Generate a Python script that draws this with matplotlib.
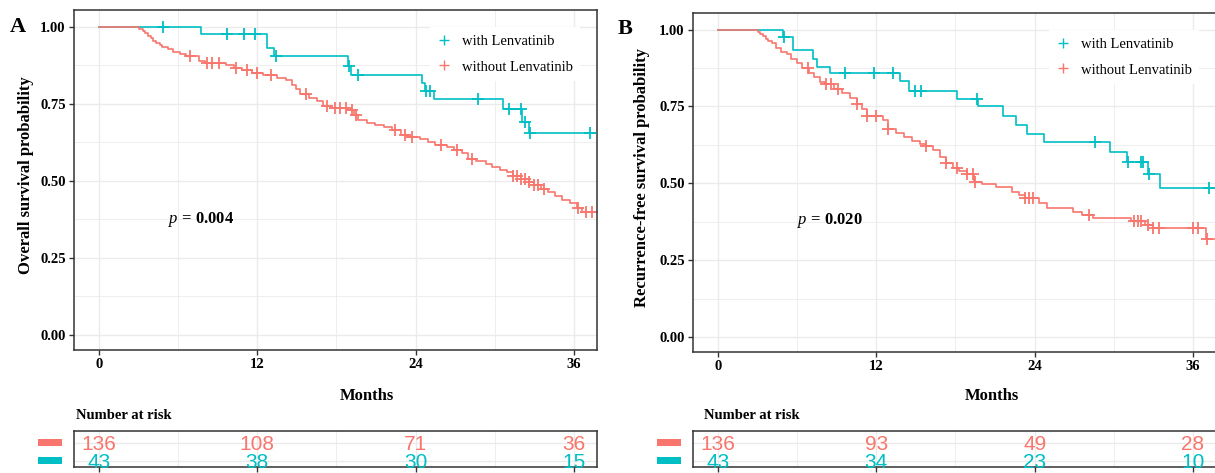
"""Kaplan-Meier OS / RFS panels, with vs without Lenvatinib, plus number-at-risk tables."""

import matplotlib

matplotlib.use("Agg")

import matplotlib.pyplot as plt
import matplotlib.transforms as mtransforms
import numpy as np
from matplotlib.lines import Line2D
from matplotlib.patches import Rectangle

RED = "#F8766D"
CYAN = "#00BFC4"
FRAME = "#333333"
GRID = "#EBEBEB"
SERIF = "Liberation Serif"
SANS = "Liberation Sans"

W, H = 1215, 473

# ---- panel A: overall survival ----
OS_WITH_T = [7.7, 12.7, 13.3, 18.9, 19.1, 24.5, 24.7, 25.4, 30.6, 32.1, 32.6]
OS_WITH_S = [0.977, 0.930, 0.904, 0.871, 0.844, 0.817, 0.792, 0.765, 0.733, 0.692, 0.654]
OS_WITH_CENS = [4.85, 9.7, 11.0, 11.8, 13.4, 18.95, 19.6, 24.8, 25.1, 28.7, 31.1, 32.0, 32.3, 32.7, 37.2]
OS_WITH_END = 37.6

OS_WITHOUT_T = [3.06, 3.3, 3.5, 3.7, 3.9, 4.1, 4.3, 4.6, 4.8, 5.2, 5.6, 6.1, 6.6, 7.6, 8.0,
                9.6, 10.2, 10.8, 11.6, 12.4, 13.5, 14.2, 14.6, 14.9, 15.2, 15.9, 16.5, 17.0,
                17.6, 18.9, 19.3, 19.6, 20.3, 20.9, 21.6, 22.2, 22.9, 23.4, 24.3, 24.9, 25.5,
                26.4, 26.9, 27.5, 28.0, 28.6, 29.3, 29.8, 30.4, 30.9, 31.4, 32.0, 32.6, 33.0,
                33.5, 34.0, 34.6, 35.1, 35.7, 36.2, 36.6]
OS_WITHOUT_S = [0.993, 0.985, 0.978, 0.970, 0.963, 0.955, 0.948, 0.940, 0.933, 0.926, 0.918,
                0.911, 0.904, 0.889, 0.882, 0.874, 0.866, 0.859, 0.851, 0.843, 0.835, 0.827,
                0.812, 0.797, 0.782, 0.767, 0.759, 0.744, 0.736, 0.728, 0.712, 0.697, 0.689,
                0.681, 0.673, 0.665, 0.650, 0.642, 0.634, 0.625, 0.617, 0.608, 0.599, 0.590,
                0.572, 0.563, 0.554, 0.545, 0.536, 0.527, 0.517, 0.507, 0.496, 0.485, 0.474,
                0.463, 0.451, 0.439, 0.427, 0.412, 0.398]
OS_WITHOUT_CENS = [6.9, 8.2, 8.6, 9.1, 10.4, 11.2, 12.0, 13.0, 15.7, 17.3, 17.9, 18.3, 18.7,
                   19.2, 19.5, 22.4, 23.2, 23.7, 25.9, 27.1, 28.3, 31.4, 31.7, 32.0, 32.3,
                   32.6, 33.0, 33.3, 33.7, 36.3, 36.9, 37.4]
OS_WITHOUT_END = 37.5

OS_RISK_WITHOUT = [136, 108, 71, 36]
OS_RISK_WITH = [43, 38, 30, 15]

# ---- panel B: recurrence-free survival ----
RFS_WITH_T = [4.95, 5.7, 7.2, 7.5, 8.5, 13.8, 14.5, 18.1, 19.7, 21.6, 22.6, 23.4, 24.7, 29.7,
              31.0, 32.6, 33.5]
RFS_WITH_S = [0.975, 0.932, 0.905, 0.877, 0.858, 0.834, 0.800, 0.775, 0.750, 0.720, 0.688,
              0.661, 0.634, 0.602, 0.569, 0.531, 0.483]
RFS_WITH_CENS = [5.0, 9.6, 11.8, 13.3, 14.9, 15.4, 19.6, 28.6, 31.1, 32.05, 32.25, 32.7, 37.2]
RFS_WITH_END = 37.8

RFS_WITHOUT_T = [3.0, 3.2, 3.4, 3.6, 3.8, 4.1, 4.4, 4.8, 5.2, 5.5, 6.0, 6.4, 6.9, 7.3, 7.7,
                 8.1, 8.8, 9.4, 10.0, 10.5, 10.9, 11.3, 12.5, 12.9, 13.5, 14.1, 14.7, 15.3,
                 15.8, 16.3, 16.8, 17.3, 17.8, 18.3, 18.9, 19.4, 20.0, 21.1, 22.3, 22.8, 23.3,
                 24.3, 24.9, 26.9, 27.6, 28.4, 31.3, 32.4, 33.0, 37.0]
RFS_WITHOUT_S = [0.993, 0.985, 0.978, 0.971, 0.963, 0.956, 0.941, 0.926, 0.919, 0.904, 0.890,
                 0.875, 0.860, 0.846, 0.831, 0.823, 0.808, 0.793, 0.778, 0.757, 0.742, 0.720,
                 0.707, 0.678, 0.664, 0.650, 0.636, 0.628, 0.621, 0.607, 0.586, 0.565, 0.550,
                 0.540, 0.530, 0.504, 0.497, 0.488, 0.472, 0.461, 0.452, 0.435, 0.419, 0.407,
                 0.396, 0.386, 0.376, 0.365, 0.353, 0.320]
RFS_WITHOUT_CENS = [6.85, 8.2, 8.6, 9.1, 10.5, 11.3, 12.0, 12.9, 15.8, 17.3, 18.1, 18.9, 19.3,
                    19.5, 23.3, 23.6, 23.9, 28.1, 31.5, 31.8, 32.1, 32.6, 33.0, 33.4, 36.0,
                    36.4, 37.1]
RFS_WITHOUT_END = 37.8

RFS_RISK_WITHOUT = [136, 93, 49, 28]
RFS_RISK_WITH = [43, 34, 23, 10]

RISK_TIMES = [0, 12, 24, 36]
X_TICKS = [0, 12, 24, 36]
Y_TICKS = [0.0, 0.25, 0.5, 0.75, 1.0]
LABELS = ["with Lenvatinib", "without Lenvatinib"]

XLIM = (-1.9, 37.75)
YLIM = (-0.049, 1.054)


def px_box(left, top, right, bottom):
    """Pixel box (from top-left) -> figure-fraction rect."""
    return [left / W, 1 - bottom / H, (right - left) / W, (bottom - top) / H]


def step_xy(times, surv, end):
    x = np.concatenate([[0.0], times, [end]])
    y = np.concatenate([[1.0], surv, [surv[-1]]])
    return x, y


def surv_at(times, surv, t):
    idx = np.searchsorted(np.asarray(times), np.asarray(t), side="right")
    levels = np.concatenate([[1.0], surv])
    return levels[idx]


def style_frame(ax):
    for sp in ax.spines.values():
        sp.set_color(FRAME)
        sp.set_linewidth(1.1)
    ax.tick_params(which="major", color=FRAME, length=3.5, width=1.0, pad=2.5,
                   labelsize=10.5)
    ax.tick_params(which="minor", length=0)
    ax.set_xticks(X_TICKS)
    ax.set_xticks([6, 18, 30], minor=True)
    ax.grid(True, which="major", color=GRID, lw=1.0)
    ax.grid(True, which="minor", color=GRID, lw=0.6)
    ax.set_axisbelow(True)
    ax.set_xlim(*XLIM)


def plot_km(ax, curves, pval_text, pval_xy, ylabel, ylabel_x, xlabel_x, xlabel_y):
    style_frame(ax)
    ax.set_yticks(Y_TICKS)
    ax.set_yticks([0.125, 0.375, 0.625, 0.875], minor=True)
    ax.set_yticklabels([f"{v:.2f}" for v in Y_TICKS])
    ax.set_ylim(*YLIM)
    for lab in ax.get_xticklabels() + ax.get_yticklabels():
        lab.set_fontfamily(SERIF)
        lab.set_fontweight("bold")

    for times, surv, cens, end, color in curves:
        x, y = step_xy(times, surv, end)
        ax.step(x, y, where="post", color=color, lw=1.2)
        ax.plot(cens, surv_at(times, surv, cens), ls="none", marker="+", ms=9,
                mew=1.3, color=color)

    handles = [Line2D([], [], ls="none", marker="+", ms=7, mew=1.0, color=c)
               for c in (CYAN, RED)]
    leg = ax.legend(handles, LABELS, loc="upper left", bbox_to_anchor=(0.666, 0.97),
                    frameon=True, fancybox=False, edgecolor="none", facecolor="white",
                    framealpha=1.0, handlelength=1.0, handletextpad=0.7, labelspacing=0.85,
                    borderpad=0.5, prop={"family": SERIF, "size": 10.5})
    leg.get_frame().set_linewidth(0)

    ax.text(*pval_xy, pval_text, fontsize=12, fontweight="bold", family=SERIF,
            ha="left", va="center")
    ax.set_ylabel(ylabel, fontsize=12, fontweight="bold", family=SERIF)
    ax.yaxis.set_label_coords(ylabel_x, 0.515)
    ax.set_xlabel("Months", fontsize=12, fontweight="bold", family=SERIF)
    ax.xaxis.set_label_coords(xlabel_x, xlabel_y)


def plot_risk(ax, risk_without, risk_with, title_x):
    style_frame(ax)
    ax.set_ylim(0.64, 2.64)
    ax.set_yticks([1, 2])
    ax.tick_params(axis="y", length=0, labelleft=False)
    ax.tick_params(axis="x", labelbottom=False)
    rows = [(2, risk_without, RED), (1, risk_with, CYAN)]
    blend = mtransforms.blended_transform_factory(ax.transAxes, ax.transData)
    for yrow, counts, color in rows:
        for t, n in zip(RISK_TIMES, counts):
            ax.text(t, yrow, str(n), color=color, fontsize=15, family=SANS,
                    ha="center", va="center_baseline")
        ax.add_patch(Rectangle((-0.069, yrow - 0.17), 0.046, 0.34, transform=blend,
                               color=color, clip_on=False, lw=0))
    ax.text(title_x, 1.44, "Number at risk", transform=ax.transAxes, fontsize=10.5,
            fontweight="bold", family=SERIF, ha="left", va="center")


def main():
    plt.rcParams["mathtext.fontset"] = "custom"
    plt.rcParams["mathtext.it"] = f"{SERIF}:italic"
    plt.rcParams["mathtext.rm"] = SERIF
    plt.rcParams["mathtext.bf"] = f"{SERIF}:bold"

    fig = plt.figure(figsize=(W / 100, H / 100), dpi=100)

    ax_a = fig.add_axes(px_box(74, 10, 597, 350))
    ax_b = fig.add_axes(px_box(693, 13, 1216, 352))
    risk_a = fig.add_axes(px_box(74, 431, 597, 467))
    risk_b = fig.add_axes(px_box(693, 431, 1216, 467))

    plot_km(ax_a,
            [(OS_WITH_T, OS_WITH_S, OS_WITH_CENS, OS_WITH_END, CYAN),
             (OS_WITHOUT_T, OS_WITHOUT_S, OS_WITHOUT_CENS, OS_WITHOUT_END, RED)],
            r"$\mathit{p}$ = 0.004", (5.2, 0.373), "Overall survival probability",
            -0.077, 0.560, -0.112)
    plot_km(ax_b,
            [(RFS_WITH_T, RFS_WITH_S, RFS_WITH_CENS, RFS_WITH_END, CYAN),
             (RFS_WITHOUT_T, RFS_WITHOUT_S, RFS_WITHOUT_CENS, RFS_WITHOUT_END, RED)],
            r"$\mathit{p}$ = 0.020", (6.0, 0.38), "Recurrence-free survival probability",
            -0.082, 0.572, -0.106)

    plot_risk(risk_a, OS_RISK_WITHOUT, OS_RISK_WITH, 0.004)
    plot_risk(risk_b, RFS_RISK_WITHOUT, RFS_RISK_WITH, 0.021)

    fig.text(10 / W, 1 - 27.5 / H, "A", fontsize=16, fontweight="bold", family=SERIF,
             ha="left", va="center")
    fig.text(618 / W, 1 - 29 / H, "B", fontsize=16, fontweight="bold", family=SERIF,
             ha="left", va="center")

    fig.savefig("out.png", dpi=100)
    plt.close(fig)


if __name__ == "__main__":
    main()
